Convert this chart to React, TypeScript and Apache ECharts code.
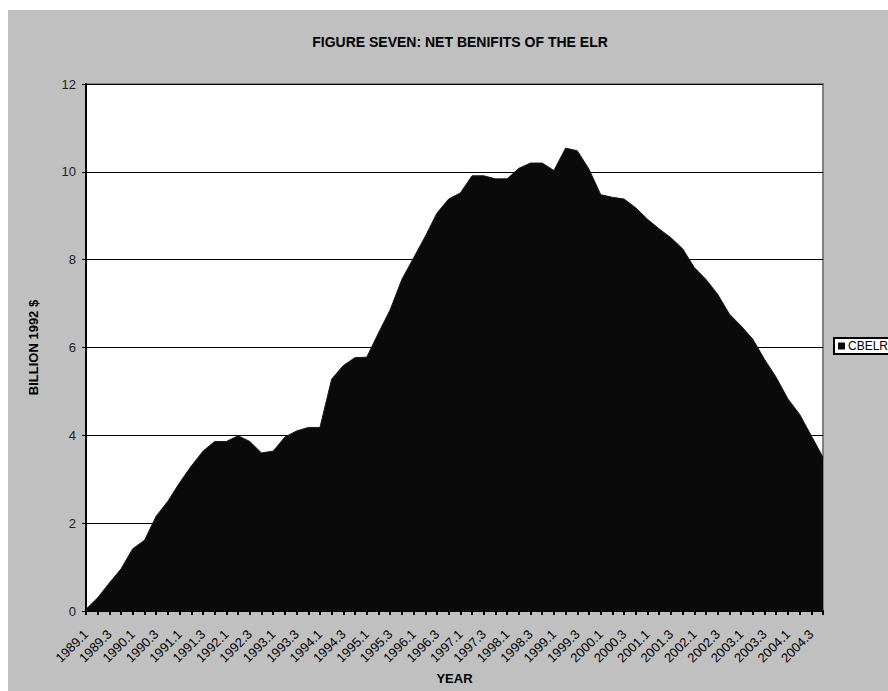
import React, { useEffect, useRef } from "react";
import * as echarts from "echarts";

// Quarterly periods, 1989 Q1 through 2004 Q4
const years = [
  1989, 1990, 1991, 1992, 1993, 1994, 1995, 1996,
  1997, 1998, 1999, 2000, 2001, 2002, 2003, 2004,
];
const quarters = [1, 2, 3, 4];
const periods: string[] = years.flatMap((y) => quarters.map((q) => `${y}.${q}`));

// Net benefits of the ELR, billion 1992 $
const cbelr = [
  0.04, 0.3, 0.64, 0.96, 1.42, 1.61, 2.16, 2.5,
  2.92, 3.3, 3.64, 3.86, 3.86, 3.99, 3.86, 3.6,
  3.64, 3.96, 4.1, 4.18, 4.18, 5.28, 5.59, 5.77,
  5.78, 6.33, 6.86, 7.55, 8.04, 8.53, 9.06, 9.38,
  9.52, 9.91, 9.91, 9.84, 9.84, 10.08, 10.2, 10.2,
  10.03, 10.54, 10.48, 10.06, 9.48, 9.42, 9.38, 9.18,
  8.92, 8.7, 8.5, 8.25, 7.82, 7.55, 7.21, 6.76,
  6.49, 6.19, 5.73, 5.32, 4.83, 4.48, 3.99, 3.5,
];

const FONT = "'Liberation Sans', Arial, sans-serif";

export default function App() {
  const ref = useRef<HTMLDivElement>(null);

  useEffect(() => {
    if (!ref.current) return;
    const chart = echarts.init(ref.current, undefined, { renderer: "svg" });
    chart.setOption({
      animation: false,
      backgroundColor: "#c0c0c0",
      textStyle: { fontFamily: FONT },
      title: {
        text: "FIGURE SEVEN: NET BENIFITS OF THE ELR",
        left: 447,
        textAlign: "center",
        top: 20,
        textStyle: { fontFamily: FONT, fontSize: 14, fontWeight: "bold", color: "#000" },
      },
      legend: {
        left: 826,
        top: 328,
        orient: "vertical",
        backgroundColor: "#fff",
        borderColor: "#000",
        borderWidth: 2,
        borderRadius: 0,
        padding: [2, 4, 2, 4],
        itemWidth: 7,
        itemHeight: 7,
        itemGap: 4,
        icon: "rect",
        textStyle: { fontFamily: FONT, fontSize: 12, color: "#000", padding: [0, 0, 0, -2] },
        data: ["CBELR"],
      },
      grid: {
        left: 78,
        right: 65,
        top: 74,
        bottom: 80,
        show: true,
        backgroundColor: "#fff",
        borderColor: "#808080",
        borderWidth: 2,
      },
      xAxis: {
        type: "category",
        data: periods,
        boundaryGap: false,
        name: "YEAR",
        nameLocation: "middle",
        nameGap: 60,
        nameTextStyle: { fontFamily: FONT, fontSize: 13, fontWeight: "bold", color: "#000" },
        axisLine: { lineStyle: { color: "#000", width: 2 } },
        axisTick: { show: true, interval: 0, length: 4, lineStyle: { color: "#000", width: 2 } },
        axisLabel: {
          interval: 1,
          rotate: 45,
          margin: 21,
          fontFamily: FONT,
          fontSize: 13,
          color: "#000",
        },
        splitLine: { show: false },
      },
      yAxis: {
        type: "value",
        min: 0,
        max: 12,
        interval: 2,
        name: "BILLION 1992 $",
        nameLocation: "middle",
        nameRotate: 90,
        nameGap: 46,
        nameTextStyle: { fontFamily: FONT, fontSize: 13, fontWeight: "bold", color: "#000" },
        axisLine: { show: true, lineStyle: { color: "#000", width: 2 } },
        axisTick: { show: true, length: 4, lineStyle: { color: "#000", width: 1 } },
        axisLabel: { margin: 10, fontFamily: FONT, fontSize: 13, color: "#222" },
        splitLine: { show: true, lineStyle: { color: "#000", width: 1 } },
      },
      series: [
        {
          name: "CBELR",
          type: "line",
          data: cbelr,
          symbol: "none",
          itemStyle: { color: "#0a0a0a" },
          lineStyle: { color: "#1a1a1a", width: 1 },
          areaStyle: { color: "#0a0a0a", opacity: 1 },
        },
      ],
    });
    return () => chart.dispose();
  }, []);

  return (
    <div
      ref={ref}
      style={{ position: "fixed", left: 8, top: 10, width: 880, height: 681 }}
    />
  );
}
